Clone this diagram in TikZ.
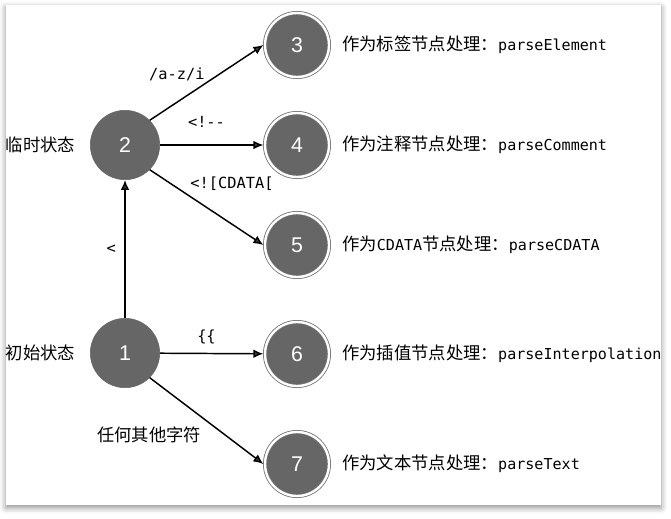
\documentclass[tikz,border=0pt]{standalone}
\usepackage{fontspec}
\setmainfont{Liberation Sans}
\setmonofont{DejaVu Sans Mono}
\newfontfamily\cjk{Noto Sans CJK SC}
\definecolor{stategray}{HTML}{666666}
\definecolor{ringgray}{HTML}{707070}
\usetikzlibrary{positioning, arrows.meta, shadows.blur}
\newcommand\fn[1]{{\ttfamily\fontsize{11.3}{13}\selectfont #1}}

\begin{document}
\begin{tikzpicture}[
  x=0.75pt, y=-0.75pt,
  state/.style={circle, fill=stategray, draw=stategray, minimum size=52pt,
                inner sep=0pt, text=white, font=\fontsize{16}{18}\selectfont},
  final/.style={state, minimum size=48pt, draw=ringgray, line width=0.6pt,
                double=white, double distance=1.8pt, outer sep=1.2pt},
  side/.style={font=\cjk\fontsize{13}{15}\selectfont, inner sep=2pt},
  edgetxt/.style={font=\ttfamily\fontsize{11.5}{13}\selectfont, text=black},
  trans/.style={-{Latex[length=7.5pt, width=6.5pt]}, line width=1.1pt},
]
\useasboundingbox (0,0) rectangle (671,518);
\fill[white, blur shadow={shadow xshift=0pt, shadow yshift=-2pt,
      shadow blur radius=4.5pt, shadow opacity=45}] (6,5) rectangle (661,505);

\node[state] (s2) at (125,145) {2};
\node[state] (s1) at (125,353) {1};
\node[final] (s3) at (297,45) {3};
\node[final] (s4) at (297,145) {4};
\node[final] (s5) at (297,245) {5};
\node[final] (s6) at (297,354) {6};
\node[final] (s7) at (297,464) {7};

\node[side, left=9pt of s2] (tmp) {临时状态};
\node[side, left=9pt of s1] (init) {初始状态};

\node[side, right=6.5pt of s3] (l3) {作为标签节点处理：\fn{parseElement}};
\node[side, right=6.5pt of s4] (l4) {作为注释节点处理：\fn{parseComment}};
\node[side, right=6.5pt of s5] (l5) {作为\fn{CDATA}节点处理：\fn{parseCDATA}};
\node[side, right=6.5pt of s6] (l6) {作为插值节点处理：\fn{parseInterpolation}};
\node[side, right=6.5pt of s7] (l7) {作为文本节点处理：\fn{parseText}};

\draw[trans] (s1) -- node[edgetxt, left=3pt] {<} (s2);
\draw[trans] (s2.north east) -- node[edgetxt, midway, anchor=south east, inner sep=1pt] {/a-z/i} (s3.west);
\draw[trans] (s2) -- node[edgetxt, pos=0.45, above=9pt] {<!{-}{-}} (s4);
\draw[trans] (s2.south east) -- node[edgetxt, pos=0.34, anchor=south west, inner sep=1pt, yshift=2pt] {<![CDATA[} (s5.west);
\draw[trans] (s1) -- node[edgetxt, pos=0.45, above=3pt] {\{\{} (s6);
\draw[trans] (s1.south east) -- node[pos=0.47, anchor=north east, inner sep=1pt, yshift=-5pt,
  font=\cjk\fontsize{13}{15}\selectfont] {任何其他字符} (s7.west);
\end{tikzpicture}
\end{document}
